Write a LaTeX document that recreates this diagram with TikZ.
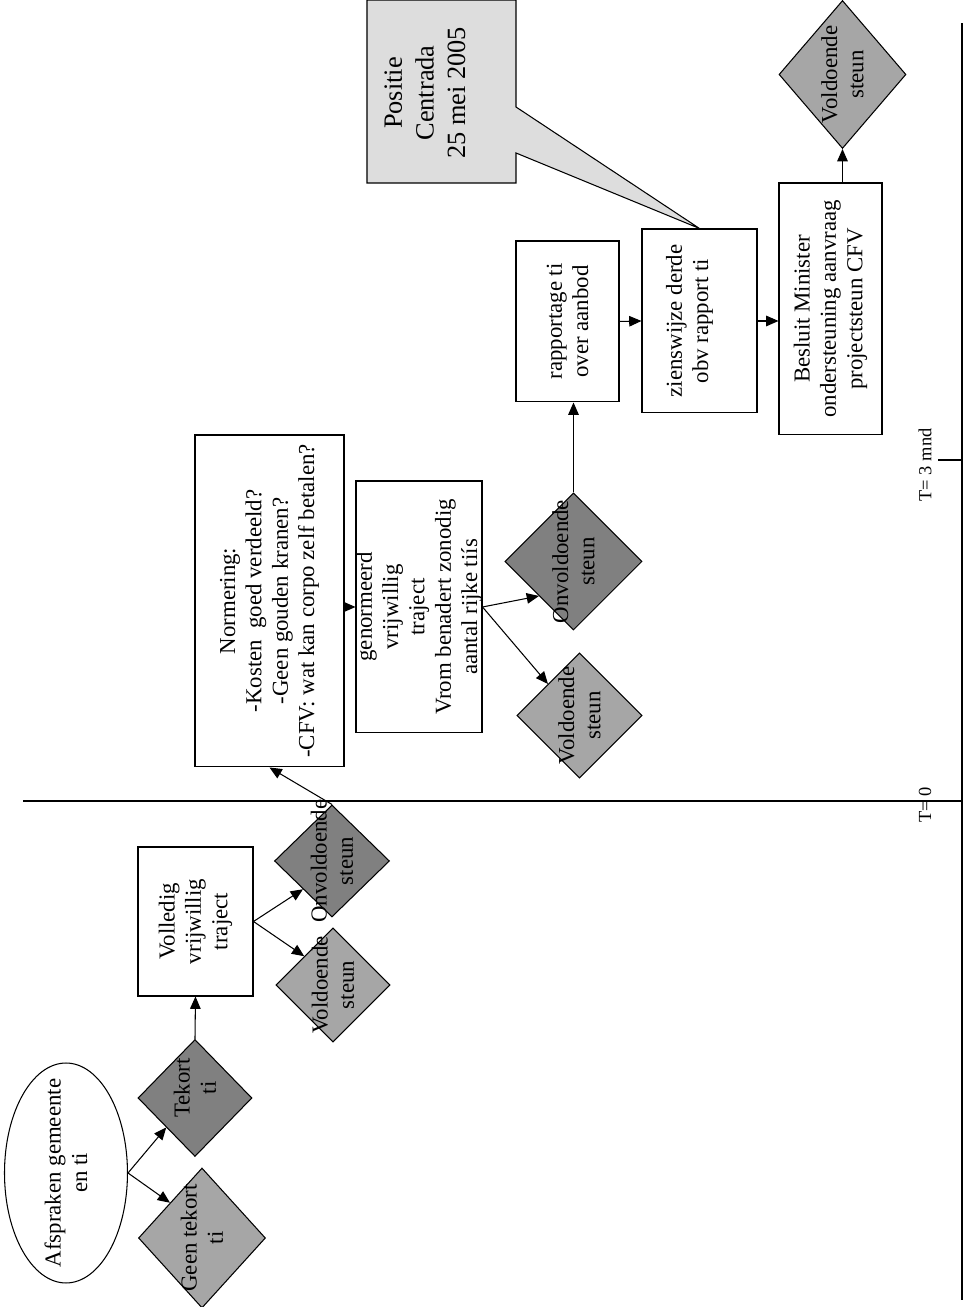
\documentclass[tikz,border=0pt]{standalone}
\usepackage{fontspec}
\setmainfont{Liberation Serif}
\usetikzlibrary{shapes.geometric, arrows.meta}
\definecolor{donker}{HTML}{808080}
\definecolor{licht}{HTML}{A6A6A6}
\definecolor{wolk}{HTML}{DDDDDD}

\begin{document}
\begin{tikzpicture}[x=0.02cm, y=0.02cm, rotate=90, transform shape, line width=0.6pt,
    txt/.style={font=\fontsize{13}{15}\selectfont, align=center},
    box/.style={draw, rectangle, inner sep=0pt, txt},
    dia/.style={draw, diamond, inner sep=0pt},
    tlab/.style={font=\fontsize{10.5}{12}\selectfont},
    pijl/.style={-{Triangle[length=7pt,width=6pt]}}]
        \useasboundingbox (0,0) rectangle (1307,964);
        % tijdlijn
        \draw[line width=1pt] (7,2) -- (1284,2);
        \draw (506,2) -- (506,941);
        \draw (847,2) -- (847,26);
        \node[tlab] (t0) at (502,39) {T= 0};
        \node[tlab] (t3) at (842,39) {T= 3 mnd};
        % voor T=0
        \node[draw, ellipse, inner sep=0pt, minimum width=4.4cm, minimum height=2.46cm,
            label={[txt]center:{Afspraken gemeente\\en ti}}] (afspr) at (134,898) {};
        \node[dia, fill=licht, minimum width=2.8cm, minimum height=2.54cm,
            label={[txt]center:{Geen tekort\\ti}}] (geen) at (69,762) {};
        \node[dia, fill=donker, minimum width=2.34cm, minimum height=2.28cm,
            label={[txt, xshift=0.2cm]center:{Tekort\\ti}}] (tekort) at (209,769) {};
        \node[box, minimum width=2.98cm, minimum height=2.3cm] (volledig) at (385.5,768.5) {Volledig\\vrijwillig\\traject};
        \node[dia, fill=licht, minimum width=2.28cm, minimum height=2.28cm,
            label={[txt]center:{Voldoende\\steun}}] (vold1) at (322,631) {};
        \node[dia, fill=donker, minimum width=2.24cm, minimum height=2.3cm,
            label={[txt]center:{Onvoldoende\\steun}}] (onv1) at (446,632) {};
        % na T=0
        \node[box, minimum width=6.64cm, minimum height=2.98cm] (norm) at (706,694.5)
            {Normering:\\-Kosten\ \ goed verdeeld?\\-Geen gouden kranen?\\-CFV: wat kan corpo zelf betalen?};
        \node[box, minimum width=5.04cm, minimum height=2.52cm,
            label={[txt]center:{genormeerd\\vrijwillig\\traject\\Vrom benadert zonodig\\aantal rijke tiís}}] (genorm) at (700,545) {};
        \node[dia, fill=licht, minimum width=2.5cm, minimum height=2.5cm,
            label={[txt]center:{Voldoende\\steun}}] (vold2) at (591.5,384.5) {};
        \node[dia, fill=donker, minimum width=2.74cm, minimum height=2.74cm,
            label={[txt]center:{Onvoldoende\\steun}}] (onv2) at (745.5,390.5) {};
        \node[box, minimum width=3.22cm, minimum height=2.06cm] (rapport) at (985.5,396.5) {rapportage ti\\over aanbod};
        \node[box, minimum width=3.68cm, minimum height=2.3cm,
            label={[txt, yshift=0.2cm]center:{zienswijze derde\\obv rapport ti}}] (zien) at (986,264.5) {};
        \node[box, minimum width=5.04cm, minimum height=2.06cm] (besluit) at (998,133.5)
            {Besluit Minister\\ondersteuning aanvraag\\projectsteun CFV};
        \node[dia, fill=licht, minimum width=2.96cm, minimum height=2.54cm,
            label={[txt]center:{Voldoende\\steun}}] (vold3) at (1232.5,121.5) {};
        % positie Centrada
        \draw[fill=wolk] (1124,448) -- (1124,597) -- (1307,597) -- (1307,448) -- (1200,448)
            -- (zien.east) -- (1154,448) -- cycle;
        \node[font=\fontsize{15}{18}\selectfont, align=center] (positie) at (1214,539) {Positie\\Centrada\\25 mei 2005};
        % pijlen
        \draw[pijl] (afspr.south) -- (geen.north east);
        \draw[pijl] (afspr.south) -- (tekort.north west);
        \draw[pijl] (tekort.east) -- (volledig.west);
        \draw[pijl] (volledig.south) -- (vold1.north east);
        \draw[pijl] (volledig.south) -- (onv1.north west);
        \draw[pijl] (onv1.east) -- (norm.west);
        \draw[pijl] (genorm.north |- norm.south) -- (genorm.north);
        \draw[pijl] (genorm.south) -- (vold2.north east);
        \draw[pijl] (genorm.south) -- (onv2.north west);
        \draw[pijl] (onv2.east) -- (onv2.east -| rapport.west);
        \draw[pijl] (rapport.south) -- (zien.north);
        \draw[pijl] (zien.south) -- (zien.south |- besluit.north);
        \draw[pijl] (vold3.west -| besluit.east) -- (vold3.west);
\end{tikzpicture}
\end{document}
